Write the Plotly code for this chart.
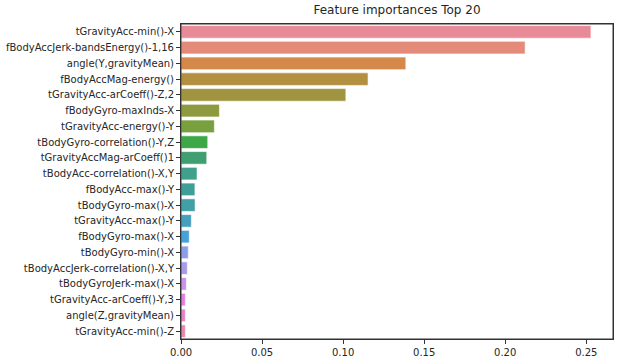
import plotly.graph_objects as go

features = [
    "tGravityAcc-min()-X",
    "fBodyAccJerk-bandsEnergy()-1,16",
    "angle(Y,gravityMean)",
    "fBodyAccMag-energy()",
    "tGravityAcc-arCoeff()-Z,2",
    "fBodyGyro-maxInds-X",
    "tGravityAcc-energy()-Y",
    "tBodyGyro-correlation()-Y,Z",
    "tGravityAccMag-arCoeff()1",
    "tBodyAcc-correlation()-X,Y",
    "fBodyAcc-max()-Y",
    "tBodyGyro-max()-X",
    "tGravityAcc-max()-Y",
    "fBodyGyro-max()-X",
    "tBodyGyro-min()-X",
    "tBodyAccJerk-correlation()-X,Y",
    "tBodyGyroJerk-max()-X",
    "tGravityAcc-arCoeff()-Y,3",
    "angle(Z,gravityMean)",
    "tGravityAcc-min()-Z",
]
importances = [0.2529, 0.2123, 0.1387, 0.1154, 0.1017, 0.0237, 0.0206, 0.0165,
               0.0159, 0.0099, 0.0086, 0.0087, 0.0064, 0.0051, 0.0045, 0.0039,
               0.0033, 0.0027, 0.0027, 0.0027]
colors = ["#e88a97", "#e38a78", "#d4894a", "#b3903f", "#a09440", "#8e9a3f",
          "#78a03e", "#3ea848", "#3f9f70", "#40a08b", "#3f9e98", "#41a0a6",
          "#44a0bc", "#48a2da", "#8b9fe8", "#a89be8", "#c792e8", "#e37fe4",
          "#e585c4", "#e687ab"]

fig = go.Figure(go.Bar(
    x=importances, y=features, orientation="h",
    marker=dict(color=colors, line=dict(color="white", width=0.6)),
))
fig.update_layout(
    width=622, height=362,
    margin=dict(l=181, r=9, t=24, b=23, autoexpand=False),
    paper_bgcolor="white", plot_bgcolor="white",
    bargap=0.2, showlegend=False,
    font=dict(family="DejaVu Sans", size=10, color="#262626"),
    title=dict(text="Feature importances Top 20", x=0.5,
               xref="paper", xanchor="center", y=1, yref="container",
               yanchor="top", pad=dict(t=6), font=dict(size=12, color="#262626")),
    shapes=[dict(type="rect", xref="paper", yref="paper", x0=0, x1=1, y0=0, y1=1,
                 line=dict(color="#333333", width=1), layer="above")],
)
fig.update_xaxes(range=[0, 0.2665], tickvals=[0, 0.05, 0.10, 0.15, 0.20, 0.25],
                 ticktext=["0.00", "0.05", "0.10", "0.15", "0.20", "0.25"],
                 ticks="outside", ticklen=4, tickwidth=1, tickcolor="#333333",
                 showgrid=False, automargin=False,
                 showline=True, linecolor="#333333", linewidth=1, mirror=True,
                 zeroline=False)
fig.update_yaxes(categoryorder="array", categoryarray=features, autorange="reversed",
                 ticks="outside", ticklen=4, tickwidth=1, tickcolor="#333333",
                 showgrid=False, automargin=False,
                 showline=True, linecolor="#333333", linewidth=1, mirror=True)
fig.write_html("out.html", config={"displayModeBar": False},
               post_script="document.body.style.margin='0';")
